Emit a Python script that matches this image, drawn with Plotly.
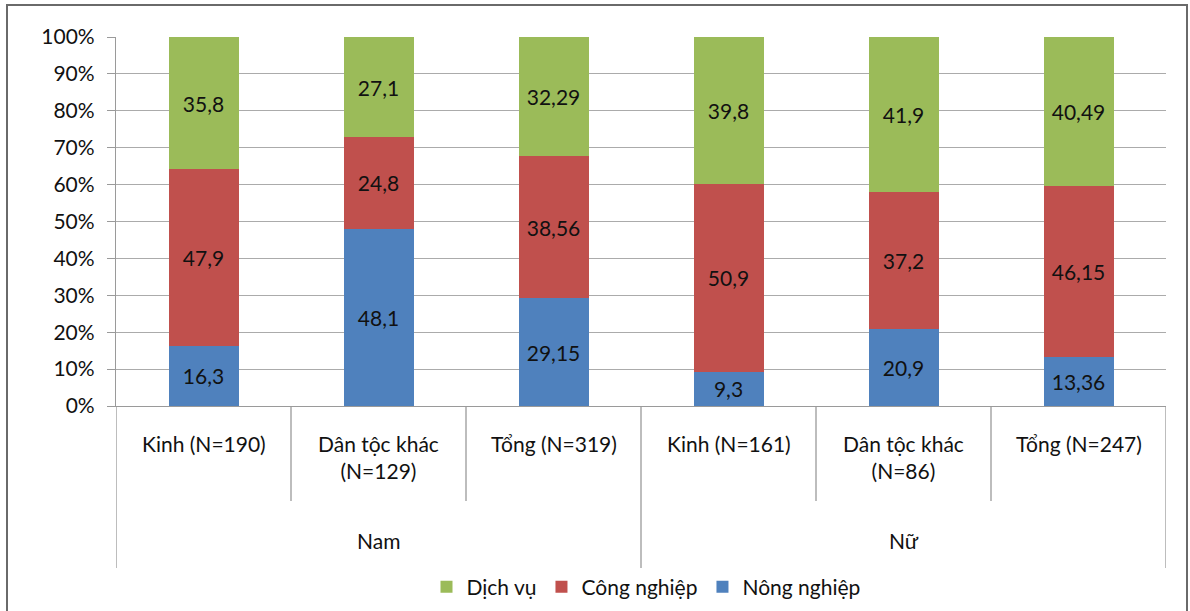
import plotly.graph_objects as go

# Employment structure by sector (%), by sex and ethnic group
groups = ["Nam", "Nam", "Nam", "Nữ", "Nữ", "Nữ"]
categories = ["Kinh (N=190)", "Dân tộc khác<br>(N=129)", "Tổng (N=319)",
              "Kinh (N=161)", "Dân tộc khác<br>(N=86)", "Tổng (N=247)"]
nong_nghiep = [16.3, 48.1, 29.15, 9.3, 20.9, 13.36]
cong_nghiep = [47.9, 24.8, 38.56, 50.9, 37.2, 46.15]
dich_vu = [35.8, 27.1, 32.29, 39.8, 41.9, 40.49]
y_ticks = [0, 10, 20, 30, 40, 50, 60, 70, 80, 90, 100]

W, H = 1190, 611
L, R, T, B = 116, 24, 37, 205
PLOT_H = H - T - B
FONT = "Lato"


def py(px):
    """Convert a pixel row of the page to a paper y coordinate."""
    return (H - B - px) / PLOT_H


def px_x(px):
    return (px - L) / (W - L - R)


keys = [f"{g}|{c}" for g, c in zip(groups, categories)]


def vn(v):
    return f"{v:g}".replace(".", ",")


series = [
    ("Nông nghiệp", nong_nghiep, "#4F81BD"),
    ("Công nghiệp", cong_nghiep, "#C0504D"),
    ("Dịch vụ", dich_vu, "#9BBB59"),
]

fig = go.Figure()
for name, vals, color in series:
    fig.add_trace(go.Bar(
        x=keys, y=vals, name=name,
        marker=dict(color=color, line=dict(width=0)),
        text=[vn(v) for v in vals],
        textposition="inside", insidetextanchor="middle",
        textangle=0, constraintext="none",
        textfont=dict(family=FONT, size=21, color="#111111"),
        width=0.4,
        hoverinfo="skip",
    ))

annotations = []
# first-level category labels
for k, c in zip(keys, categories):
    annotations.append(dict(
        x=k, xref="x", y=py(429), yref="paper", yanchor="top",
        text=c, showarrow=False,
        font=dict(family=FONT, size=21, color="#111111"),
    ))
# group labels
uniq = []
for g in groups:
    if g not in uniq:
        uniq.append(g)
for g in uniq:
    idx = [i for i, gg in enumerate(groups) if gg == g]
    mid = (idx[0] + idx[-1]) / 2
    annotations.append(dict(
        x=mid, xref="x", y=py(540), yref="paper", yanchor="middle",
        text=g, showarrow=False,
        font=dict(family=FONT, size=21, color="#111111"),
    ))

shapes = []
axis_col = "#9A9A9A"
n = len(keys)
for i in range(n + 1):
    xpos = i - 0.5
    outer = i == 0 or i == n or groups[i - 1] != groups[min(i, n - 1)]
    bottom = py(568) if outer else py(501)
    shapes.append(dict(type="line", xref="x", yref="paper",
                       x0=xpos, x1=xpos, y0=0, y1=bottom,
                       line=dict(color=axis_col, width=1.3)))
# chart frame
shapes.append(dict(type="rect", xref="paper", yref="paper",
                   x0=px_x(7), x1=px_x(1187), y0=py(5), y1=py(640),
                   line=dict(color="#6A6A6A", width=2), fillcolor="rgba(0,0,0,0)"))

fig.update_layout(
    width=W, height=H,
    margin=dict(l=L, r=R, t=T, b=B, autoexpand=False),
    barmode="stack",
    plot_bgcolor="white", paper_bgcolor="white",
    font=dict(family=FONT, size=21, color="#111111"),
    showlegend=True,
    legend=dict(orientation="h", traceorder="reversed",
                xref="container", yref="container",
                x=646 / W, xanchor="center", y=(H - 587) / H, yanchor="middle",
                font=dict(family=FONT, size=21, color="#111111"),
                itemwidth=30, bgcolor="rgba(0,0,0,0)"),
    annotations=annotations,
    shapes=shapes,
    xaxis=dict(type="category", range=[-0.5, n - 0.5], showticklabels=False,
               showgrid=False, showline=True, linecolor=axis_col, linewidth=1.3,
               ticks="", zeroline=False, fixedrange=True),
    yaxis=dict(range=[0, 100], tickvals=y_ticks,
               ticktext=[f"{v}%" for v in y_ticks],
               showgrid=True, gridcolor="#ABABAB", gridwidth=1.3,
               showline=True, linecolor=axis_col, linewidth=1.3,
               ticks="outside", ticklen=8, tickcolor=axis_col, tickwidth=1.3,
               ticklabelstandoff=8,
               tickfont=dict(family=FONT, size=21, color="#111111"),
               zeroline=False, fixedrange=True),
)

fig.write_html("out.html")
